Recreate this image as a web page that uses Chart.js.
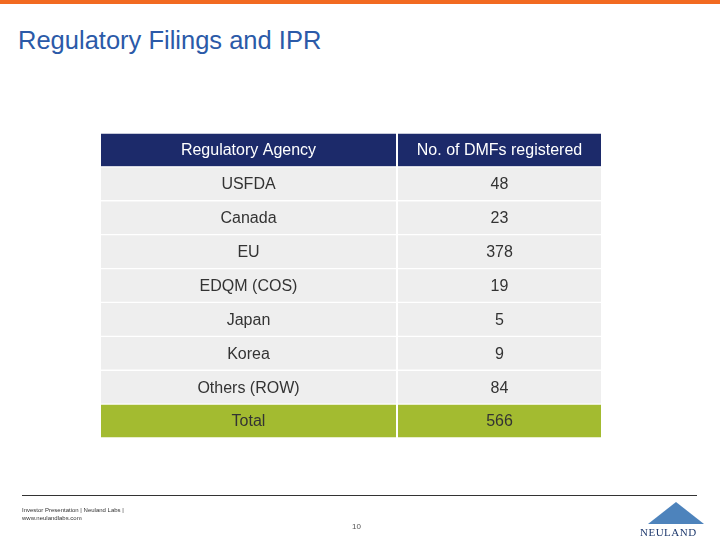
<!DOCTYPE html>
<html>
<head>
<meta charset="utf-8">
<script src="https://cdn.jsdelivr.net/npm/chart.js@4"></script>
<style>
  body { margin: 0; width: 720px; height: 540px; position: relative; background: #fff; font-family: "Liberation Sans", Arial, sans-serif; overflow: hidden; }
  #topbar { position: absolute; left: 0; top: 0; width: 720px; height: 4px; background: #f26a21; }
  #title { position: absolute; left: 18px; top: 26px; font-size: 25.5px; color: #2b5aa8; }
  #cv { position: absolute; left: 0; top: 0; }
  #rule { position: absolute; left: 22px; top: 495px; width: 675px; height: 1px; background: #333; }
  #foot { position: absolute; left: 22px; top: 506px; font-size: 6px; line-height: 8px; color: #333; }
  #page { position: absolute; left: 352px; top: 522px; font-size: 8px; color: #555; }
  #logo { position: absolute; left: 640px; top: 526px; font-size: 11px; font-family: "Liberation Serif", serif; color: #1f3a6e; letter-spacing: 0.5px; }
  #peak { position: absolute; left: 648px; top: 502px; width: 0; height: 0; border-left: 28px solid transparent; border-right: 28px solid transparent; border-bottom: 22px solid #2e6db0; opacity: 0.85; }
</style>
</head>
<body>
<div id="topbar"></div>
<div id="title">Regulatory Filings and IPR</div>
<canvas id="cv" width="720" height="540"></canvas>
<div id="rule"></div>
<div id="foot">Investor Presentation | Neuland Labs |<br>www.neulandlabs.com</div>
<div id="page">10</div>
<div id="peak"></div>
<div id="logo">NEULAND</div>
<script>
const headers = ["Regulatory Agency", "No. of DMFs registered"];
const agencies = ["USFDA", "Canada", "EU", "EDQM (COS)", "Japan", "Korea", "Others (ROW)", "Total"];
const dmfCounts = [48, 23, 378, 19, 5, 9, 84, 566];

const rowLabels = ["header"].concat(agencies);
const col1 = [0, 295], col2 = [297, 500];
const rowColor = (i) => i === 0 ? "#1c2a6a" : (i === rowLabels.length - 1 ? "#a3bb30" : "#eeeeee");
const rowText = (i) => i === 0 ? "#ffffff" : "#333333";

const cellText = {
  id: "cellText",
  afterDatasetsDraw(chart) {
    const ctx = chart.ctx;
    ctx.save();
    ctx.font = '16px "Liberation Sans", Arial, sans-serif';
    ctx.textAlign = "center";
    ctx.textBaseline = "middle";
    chart.data.datasets.forEach((ds, di) => {
      chart.getDatasetMeta(di).data.forEach((bar, i) => {
        const p = bar.getProps(["x", "base", "y"], true);
        let txt = i === 0 ? headers[di] : (di === 0 ? agencies[i - 1] : String(dmfCounts[i - 1]));
        ctx.fillStyle = rowText(i);
        ctx.fillText(txt, (p.x + p.base) / 2, p.y + 1);
      });
    });
    ctx.restore();
  }
};

new Chart(document.getElementById("cv"), {
  type: "bar",
  data: {
    labels: rowLabels,
    datasets: [
      { data: rowLabels.map(() => col1), backgroundColor: rowLabels.map((_, i) => rowColor(i)) },
      { data: rowLabels.map(() => col2), backgroundColor: rowLabels.map((_, i) => rowColor(i)) }
    ]
  },
  options: {
    indexAxis: "y",
    responsive: false,
    animation: false,
    layout: { padding: { left: 101, right: 119, top: 133, bottom: 102 } },
    datasets: { bar: { barPercentage: 1, categoryPercentage: 1, borderWidth: { top: 1, bottom: 1 }, borderColor: "#ffffff", borderSkipped: false, grouped: false } },
    scales: {
      x: { display: false, min: 0, max: 500 },
      y: { display: false }
    },
    plugins: { legend: { display: false }, tooltip: { enabled: false } }
  },
  plugins: [cellText]
});
</script>
</body>
</html>
